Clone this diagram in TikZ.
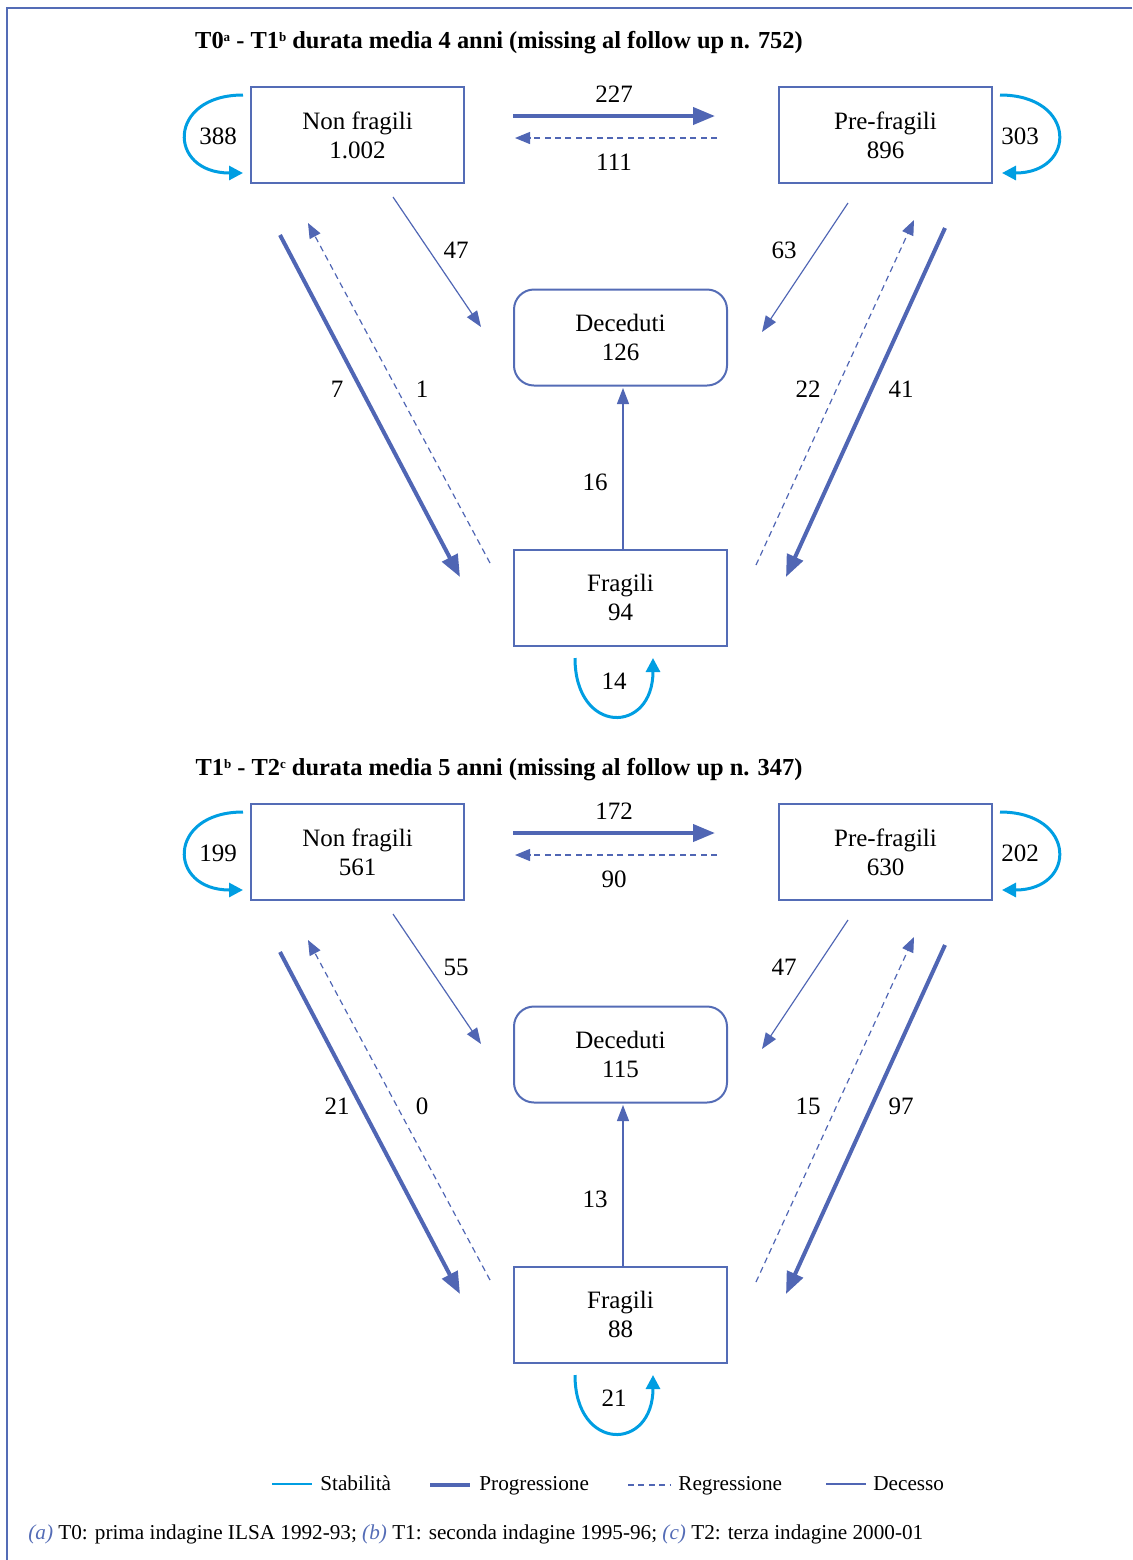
\documentclass[tikz,border=0pt]{standalone}
\usepackage{fontspec}
\setmainfont{Liberation Serif}
\usetikzlibrary{arrows.meta}
\definecolor{boxblue}{RGB}{84,108,182}
\definecolor{arrblue}{RGB}{80,102,180}
\definecolor{stabcyan}{RGB}{0,158,226}
\newcommand\lblfont{\fontsize{12.5}{14.5}\selectfont}
\newcommand\ttlfont{\fontsize{12.2}{14}\selectfont\bfseries}
\newcommand\smallfont{\fontsize{10.6}{12.5}\selectfont}
\newcommand\supx[1]{\raisebox{3.6pt}{\fontsize{6.5}{7}\selectfont #1}}
\tikzset{
  box/.style={draw=boxblue, line width=1pt, minimum width=106.5pt, minimum height=48pt,
    inner sep=0pt, align=center, font=\lblfont},
  rbox/.style={box, rounded corners=10pt},
  lbl/.style={inner sep=0pt, font=\lblfont},
  ttl/.style={inner sep=0pt, font=\ttlfont},
  leg/.style={inner sep=0pt, anchor=base west, font=\smallfont},
  prog/.style={draw=arrblue, line width=2pt, -{Triangle[length=11pt,width=8.5pt]}},
  regr/.style={draw=arrblue, line width=0.6pt, dash pattern=on 3pt off 2.2pt,
    -{Triangle[length=7.5pt,width=6pt]}},
  dec/.style={draw=arrblue, line width=0.6pt, -{Triangle[length=8pt,width=6pt]}},
  stab/.style={draw=stabcyan, line width=1.5pt, -{Triangle[length=7pt,width=7pt]}},
  frame/.style={draw=boxblue, line width=0.9pt},
}
% panel macro: #1 prefix
\newcommand\drawpanel[1]{%
  \node[box]  (#1nf) at (357.5,135)   {Non fragili\\\vNF};
  \node[box]  (#1pf) at (885.5,135)   {Pre-fragili\\\vPF};
  \node[rbox] (#1d)  at (620.5,337.5) {Deceduti\\\vD};
  \node[box]  (#1f)  at (620.5,597.5) {Fragili\\\vF};
  % free ends
  \coordinate (#1a1) at (513,116);  \coordinate (#1b1) at (715,116);
  \coordinate (#1a2) at (717,138);  \coordinate (#1b2) at (515,138);
  \coordinate (#1a3) at (243,95);   \coordinate (#1b3) at (243,173);
  \coordinate (#1a4) at (1000,95);  \coordinate (#1b4) at (1002,173);
  \coordinate (#1a5) at (393,197);  \coordinate (#1b5) at (481,327);
  \coordinate (#1a6) at (848,203);  \coordinate (#1b6) at (762,332);
  \coordinate (#1a7) at (280,235);  \coordinate (#1b7) at (460,577);
  \coordinate (#1a8) at (490,563);  \coordinate (#1b8) at (308,223);
  \coordinate (#1a9) at (756,565);  \coordinate (#1b9) at (914,220);
  \coordinate (#1a10) at (945,228); \coordinate (#1b10) at (786,577);
  \coordinate (#1a11) at (623,550); \coordinate (#1b11) at (623,388);
  \coordinate (#1a12) at (575,658); \coordinate (#1b12) at (653,658);
  % connectors
  \draw[prog] (#1a1) -- (#1b1);
  \draw[regr] (#1a2) -- (#1b2);
  \draw[stab] (#1a3) .. controls (167,95) and (167,173) .. (#1b3);
  \draw[stab] (#1a4) .. controls (1077,95) and (1077,173) .. (#1b4);
  \draw[dec]  (#1a5) -- (#1b5);
  \draw[dec]  (#1a6) -- (#1b6);
  \draw[prog] (#1a7) -- (#1b7);
  \draw[regr] (#1a8) -- (#1b8);
  \draw[regr] (#1a9) -- (#1b9);
  \draw[prog] (#1a10) -- (#1b10);
  \draw[dec]  (#1a11) -- (#1b11);
  \draw[stab] (#1a12) .. controls (575,735) and (653,735) .. (#1b12);
  % labels
  \node[lbl] (#1l1)  at (614,94)  {\vA};
  \node[lbl] (#1l2)  at (614,162) {\vB};
  \node[lbl] (#1l3)  at (218,136) {\vC};
  \node[lbl] (#1l4)  at (1020,136){\vE};
  \node[lbl] (#1l5)  at (456,250) {\vG};
  \node[lbl] (#1l6)  at (784,250) {\vH};
  \node[lbl] (#1l7)  at (337,389) {\vI};
  \node[lbl] (#1l8)  at (422,389) {\vJ};
  \node[lbl] (#1l9)  at (808,389) {\vK};
  \node[lbl] (#1l10) at (901,389) {\vL};
  \node[lbl] (#1l11) at (595,482) {\vM};
  \node[lbl] (#1l12) at (614,681) {\vN};
}
\begin{document}
\begin{tikzpicture}[x=0.5pt,y=-0.5pt]
  \useasboundingbox (0,0) rectangle (1132,1560);
  % partial frame
  \coordinate (fr1) at (7,1560); \coordinate (fr2) at (7,8); \coordinate (fr3) at (1132,8);
  \draw[frame] (fr1) -- (fr2) -- (fr3);
  % panel 1
  \node[ttl] (t1) at (499,43) {T0\supx{a} - T1\supx{b} durata media 4 anni (missing al follow up n. 752)};
  \def\vNF{1.002}\def\vPF{896}\def\vD{126}\def\vF{94}%
  \def\vA{227}\def\vB{111}\def\vC{388}\def\vE{303}\def\vG{47}\def\vH{63}%
  \def\vI{7}\def\vJ{1}\def\vK{22}\def\vL{41}\def\vM{16}\def\vN{14}%
  \drawpanel{p}
  % panel 2
  \node[ttl] (t2) at (499,770) {T1\supx{b} - T2\supx{c} durata media 5 anni (missing al follow up n. 347)};
  \begin{scope}[shift={(0,717)}]
  \def\vNF{561}\def\vPF{630}\def\vD{115}\def\vF{88}%
  \def\vA{172}\def\vB{90}\def\vC{199}\def\vE{202}\def\vG{55}\def\vH{47}%
  \def\vI{21}\def\vJ{0}\def\vK{15}\def\vL{97}\def\vM{13}\def\vN{21}%
  \drawpanel{q}
  \end{scope}
  % legend
  \coordinate (g1a) at (272,1484); \coordinate (g1b) at (312,1484);
  \coordinate (g2a) at (430,1485); \coordinate (g2b) at (470,1485);
  \coordinate (g3a) at (628,1485); \coordinate (g3b) at (670,1485);
  \coordinate (g4a) at (826,1484); \coordinate (g4b) at (866,1484);
  \draw[draw=stabcyan, line width=1.3pt] (g1a) -- (g1b);
  \draw[draw=arrblue, line width=2pt] (g2a) -- (g2b);
  \draw[draw=arrblue, line width=1pt, dash pattern=on 3pt off 2.2pt] (g3a) -- (g3b);
  \draw[draw=arrblue, line width=0.6pt] (g4a) -- (g4b);
  \node[leg] (lg1) at (320,1490) {Stabilità};
  \node[leg] (lg2) at (479,1490) {Progressione};
  \node[leg] (lg3) at (678,1490) {Regressione};
  \node[leg] (lg4) at (873,1490) {Decesso};
  % footnote
  \node[leg] (fn) at (28,1539)
    {{\color{boxblue}\itshape(a)} T0: prima indagine ILSA 1992-93; {\color{boxblue}\itshape(b)} T1: seconda indagine 1995-96; {\color{boxblue}\itshape(c)} T2: terza indagine 2000-01};
\end{tikzpicture}
\end{document}
